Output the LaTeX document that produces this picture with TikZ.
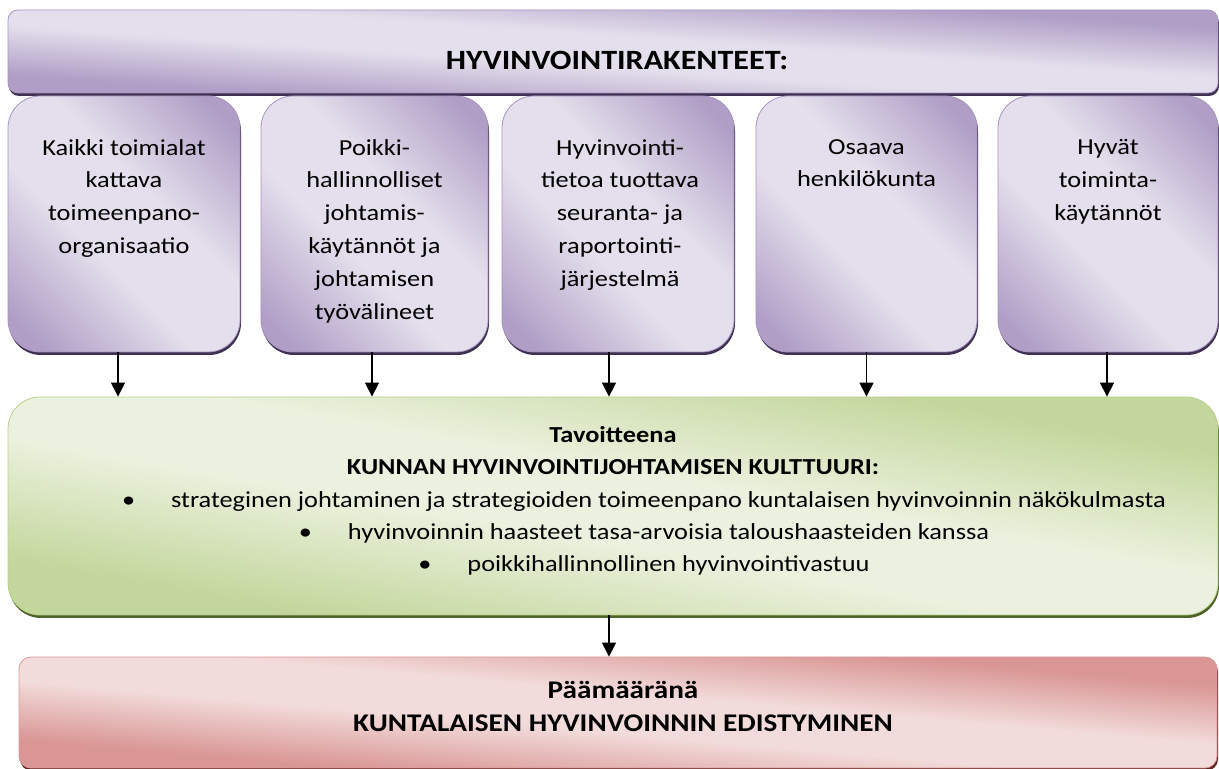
\documentclass[tikz,border=0pt]{standalone}
\usepackage{fontspec}
\setmainfont{Carlito}[FakeStretch=1.15]
\usetikzlibrary{shadows,arrows.meta}

\definecolor{lilaclight}{HTML}{E4DFEC}
\definecolor{lilacdark}{HTML}{B09EC6}
\definecolor{lilacline}{HTML}{A694C0}
\definecolor{lilacshade}{HTML}{3F3151}
\definecolor{leaflight}{HTML}{EBF1DE}
\definecolor{leafdark}{HTML}{C3D69B}
\definecolor{leafline}{HTML}{B7CF8D}
\definecolor{leafshade}{HTML}{4F6228}
\definecolor{roselight}{HTML}{F2DCDB}
\definecolor{rosedark}{HTML}{D99694}
\definecolor{roseline}{HTML}{DA9A98}
\definecolor{roseshade}{HTML}{632523}

% broad light band between two darker corners (pillars)
\pgfdeclareverticalshading{lilacband}{100bp}{color(0bp)=(lilacdark); color(20bp)=(lilacdark); color(42bp)=(lilaclight); color(58bp)=(lilaclight); color(80bp)=(lilacdark); color(100bp)=(lilacdark)}
% flatter band for the wide bars
\pgfdeclareverticalshading{lilacstrip}{100bp}{color(0bp)=(lilacdark); color(29bp)=(lilacdark); color(45bp)=(lilaclight); color(55bp)=(lilaclight); color(71bp)=(lilacdark); color(100bp)=(lilacdark)}
\pgfdeclareverticalshading{leafstrip}{100bp}{color(0bp)=(leafdark); color(28bp)=(leafdark); color(45bp)=(leaflight); color(55bp)=(leaflight); color(72bp)=(leafdark); color(100bp)=(leafdark)}
\pgfdeclareverticalshading{rosestrip}{100bp}{color(0bp)=(rosedark); color(30bp)=(rosedark); color(45bp)=(roselight); color(55bp)=(roselight); color(70bp)=(rosedark); color(100bp)=(rosedark)}

\tikzset{
  panel/.style={draw=#1line, line width=0.8bp, inner sep=0pt,
    shading=#1strip,
    drop shadow={shadow xshift=1bp, shadow yshift=-3bp, fill=#1shade, opacity=1}},
  pillar/.style={panel=lilac, shading=lilacband, shading angle=-45,
    rounded corners=32bp, minimum height=256bp},
  pillartext/.style={anchor=north, align=center, inner sep=0pt,
    font=\fontsize{23}{33}\selectfont},
  flow/.style={-{Triangle[width=14bp,length=14bp]}, line width=1.5bp, black},
}

\begin{document}
\begin{tikzpicture}[>=latex, line join=bevel]
\useasboundingbox (0bp,0bp) rectangle (1219bp,769bp);
%%
\node (top) at (613bp,717.5bp) [panel=lilac, shading angle=-4, rounded corners=10bp, minimum width=1210bp, minimum height=83bp] {};
\node (toptext) at (617bp,709bp) [font=\fontsize{28}{33}\selectfont\bfseries] {HYVINVOINTIRAKENTEET:};
%
\node (p1) at (124bp,545bp) [pillar, minimum width=232bp] {};
\node (p2) at (374.5bp,545bp) [pillar, minimum width=227bp] {};
\node (p3) at (618bp,545bp) [pillar, minimum width=232bp] {};
\node (p4) at (866.5bp,545bp) [pillar, minimum width=221bp] {};
\node (p5) at (1108bp,545bp) [pillar, minimum width=220bp] {};
\node (p1text) at (124bp,630bp) [pillartext] {Kaikki toimialat\\kattava\\toimeenpano-\\organisaatio};
\node (p2text) at (374.5bp,630bp) [pillartext] {Poikki-\\hallinnolliset\\johtamis-\\käytännöt ja\\johtamisen\\työvälineet};
\node (p3text) at (620bp,630bp) [pillartext] {Hyvinvointi-\\tietoa tuottava\\seuranta- ja\\raportointi-\\järjestelmä};
\node (p4text) at (866.5bp,630bp) [pillartext] {Osaava\\henkilökunta};
\node (p5text) at (1108bp,630bp) [pillartext] {Hyvät\\toiminta-\\käytännöt};
%
\node (goal) at (613bp,263bp) [panel=leaf, shading angle=-10, rounded corners=32bp, minimum width=1210bp, minimum height=218bp] {};
\node (goaltext) at (613bp,268bp) [align=center, inner sep=0pt, font=\fontsize{23}{32.5}\selectfont] {%
  \textbf{Tavoitteena}\\
  \textbf{KUNNAN HYVINVOINTIJOHTAMISEN KULTTUURI:}\\
  \hspace*{62bp}\textbullet\hspace{36bp}strateginen johtaminen ja strategioiden toimeenpano kuntalaisen hyvinvoinnin näkökulmasta\\
  \hspace*{62bp}\textbullet\hspace{36bp}hyvinvoinnin haasteet tasa-arvoisia taloushaasteiden kanssa\\
  \hspace*{62bp}\textbullet\hspace{36bp}poikkihallinnollinen hyvinvointivastuu};
%
\node (aim) at (618bp,56.5bp) [panel=rose, shading angle=-5, rounded corners=12bp, minimum width=1198bp, minimum height=111bp] {};
\node (aimtext) at (623bp,62.5bp) [align=center, inner sep=0pt, font=\fontsize{25.5}{33}\selectfont\bfseries] {Päämääränä\\KUNTALAISEN HYVINVOINNIN EDISTYMINEN};
%
\draw [flow] ([xshift=-6bp]p1.south) -- ([xshift=-6bp]p1.south |- goal.north);
\draw [flow] ([xshift=-2.5bp]p2.south) -- ([xshift=-2.5bp]p2.south |- goal.north);
\draw [flow] ([xshift=-9bp]p3.south) -- ([xshift=-9bp]p3.south |- goal.north);
\draw [flow] (p4.south) -- (p4.south |- goal.north);
\draw [flow] ([xshift=-1bp]p5.south) -- ([xshift=-1bp]p5.south |- goal.north);
\draw [flow] ([xshift=-4bp]goal.south) -- ([xshift=-4bp]goal.south |- aim.north);
%
\end{tikzpicture}
\end{document}
